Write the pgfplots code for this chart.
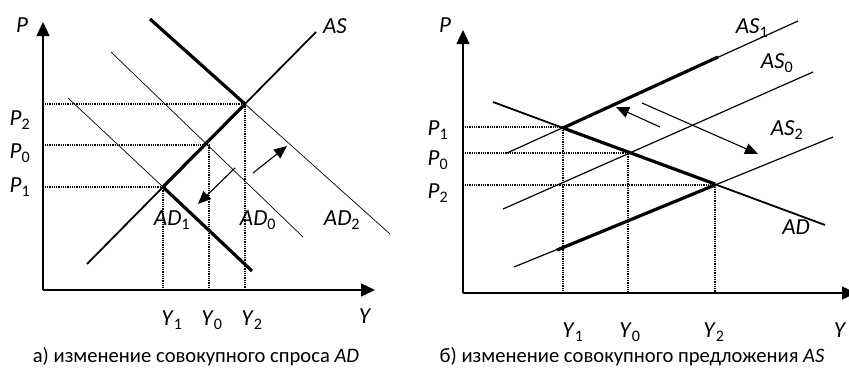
\documentclass[border=0pt]{standalone}
\usepackage{pgfplots}
\pgfplotsset{compat=1.18}
\usetikzlibrary{arrows.meta}
\usepackage{fontspec}
\setmainfont{Carlito}
\newcommand{\lb}[2]{\textit{#1}\textsubscript{#2}}
\tikzset{
  thn/.style={black, line width=0.7pt},
  med/.style={black, line width=1.8pt},
  thk/.style={black, line width=3.2pt},
  dts/.style={black, line width=1.1pt, dash pattern=on 1pt off 0.8pt},
  arr/.style={black, line width=1.1pt, -{Triangle[length=13pt,width=11pt]}},
  axs/.style={black, line width=1.4pt, -{Triangle[length=14pt,width=13pt]}},
  lab/.style={font=\fontsize{23}{26}\selectfont},
  captxt/.style={font=\fontsize{20.6}{24}\selectfont}}
\begin{document}
\begin{tikzpicture}
\begin{axis}[x=1pt, y=1pt, xmin=0, xmax=849, ymin=0, ymax=367, y dir=reverse,
  hide axis, clip=true]

% ---- panel a: change of aggregate demand
\addplot[axs] coordinates {(43,290) (43,22)};
\addplot[axs] coordinates {(43,290) (375,290)};
\addplot[dts] coordinates {(45,187) (163,187) (163,290)};
\addplot[dts] coordinates {(45,145) (209,145) (209,290)};
\addplot[dts] coordinates {(45,104) (245,104) (245,290)};
\addplot[med] coordinates {(87,264) (316,32)};
\addplot[thk] coordinates {(163,187) (245,104)};
\addplot[thn] coordinates {(68,98) (163,187)};
\addplot[thk] coordinates {(163,187) (252,271)};
\addplot[thn] coordinates {(111,52) (303,237)};
\addplot[thk] coordinates {(150,19) (245,104)};
\addplot[thn] coordinates {(245,104) (390,234)};
\addplot[arr] coordinates {(235,168) (198,204)};
\addplot[arr] coordinates {(253,173) (287,146)};

\node[lab] at (axis cs:22,25) {\textit{P}};
\node[lab] at (axis cs:20,120) {\lb{P}{2}};
\node[lab] at (axis cs:20,153) {\lb{P}{0}};
\node[lab] at (axis cs:20,187) {\lb{P}{1}};
\node[lab] at (axis cs:172,320) {\lb{Y}{1}};
\node[lab] at (axis cs:212,320) {\lb{Y}{0}};
\node[lab] at (axis cs:252,320) {\lb{Y}{2}};
\node[lab] at (axis cs:365,316) {\textit{Y}};
\node[lab] at (axis cs:335,26) {\textit{AS}};
\node[lab] at (axis cs:172,220) {\lb{AD}{1}};
\node[lab] at (axis cs:258,220) {\lb{AD}{0}};
\node[lab] at (axis cs:342,220) {\lb{AD}{2}};
\node[captxt] at (axis cs:196,357) {а) изменение совокупного спроса \textit{AD}};

% ---- panel b: change of aggregate supply
\addplot[axs] coordinates {(463,293) (463,30)};
\addplot[axs] coordinates {(463,293) (856,293)};
\addplot[dts] coordinates {(465,127) (563,127) (563,293)};
\addplot[dts] coordinates {(465,153) (628,153) (628,293)};
\addplot[dts] coordinates {(465,185) (715,185) (715,293)};
\addplot[med] coordinates {(493,102) (825,225)};
\addplot[thk] coordinates {(563,128) (715,184)};
\addplot[thn, line width=1.2pt] coordinates {(507,153) (798,21)};
\addplot[thk] coordinates {(563,128) (718,57)};
\addplot[thn, line width=1.2pt] coordinates {(503,209) (813,72)};
\addplot[thn, line width=1.2pt] coordinates {(514,267) (833,137)};
\addplot[thk] coordinates {(557,250) (715,185)};
\addplot[arr] coordinates {(660,127) (616,107)};
\addplot[arr] coordinates {(642,103) (758,154)};

\node[lab] at (axis cs:445,25) {\textit{P}};
\node[lab] at (axis cs:438,130) {\lb{P}{1}};
\node[lab] at (axis cs:438,160) {\lb{P}{0}};
\node[lab] at (axis cs:438,193) {\lb{P}{2}};
\node[lab] at (axis cs:573,332) {\lb{Y}{1}};
\node[lab] at (axis cs:630,332) {\lb{Y}{0}};
\node[lab] at (axis cs:714,332) {\lb{Y}{2}};
\node[lab] at (axis cs:840,330) {\textit{Y}};
\node[lab] at (axis cs:752,28) {\lb{AS}{1}};
\node[lab] at (axis cs:777,63) {\lb{AS}{0}};
\node[lab] at (axis cs:787,130) {\lb{AS}{2}};
\node[lab] at (axis cs:796,227) {\textit{AD}};
\node[captxt] at (axis cs:632,357) {б) изменение совокупного предложения \textit{AS}};
\end{axis}
\pgfresetboundingbox
\useasboundingbox (current axis.south west) rectangle (current axis.north east);
\end{tikzpicture}
\end{document}
